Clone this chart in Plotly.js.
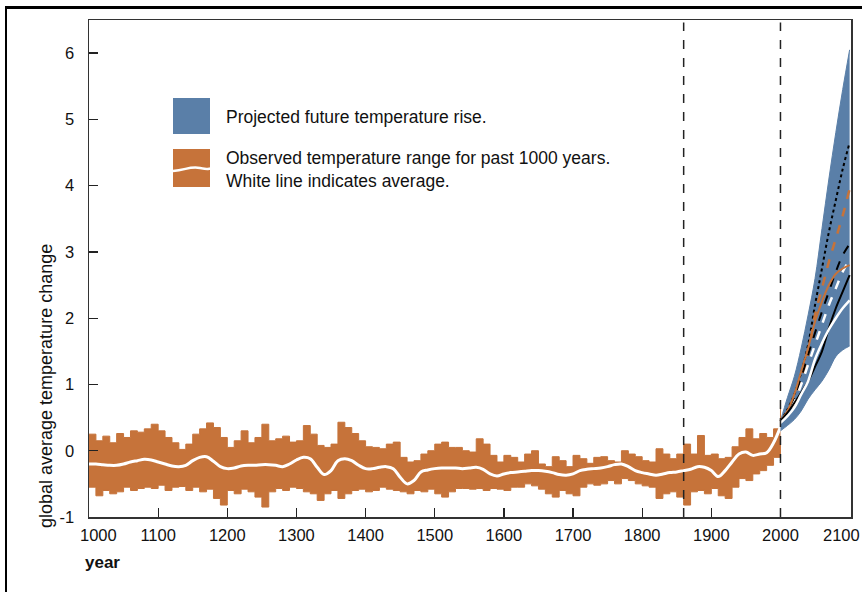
<!DOCTYPE html>
<html>
<head>
<meta charset="utf-8">
<script src="https://cdn.plot.ly/plotly-3.0.1.min.js"></script>
<style>
  html, body { margin: 0; padding: 0; background: #fff; }
  #wrap { position: relative; width: 862px; height: 592px; overflow: hidden; }
  #chart { width: 862px; height: 592px; }
  #frame { position: absolute; left: 5px; top: 6px; width: 900px; height: 700px;
           border-top: 3px solid #000; border-left: 2.5px solid #000; pointer-events: none; }
</style>
</head>
<body>
<div id="wrap"><div id="chart"></div><div id="frame"></div></div>
<script>
// ---- Observed record (10-year steps, 1000-2000) ----
const obsYears = [];
for (let y = 1000; y <= 2000; y += 10) obsYears.push(y);

const obsUpper = [0.25,0.15,0.22,0.12,0.26,0.2,0.3,0.28,0.33,0.4,
  0.3,0.2,0.12,0.02,0.1,0.25,0.33,0.42,0.35,0.2,
  0.05,0.15,0.3,0.12,0.2,0.4,0.15,0.18,0.22,0.13,
  0.15,0.38,0.25,0.08,0.05,0.1,0.43,0.35,0.26,0.15,
  0.06,0.05,0.03,0.1,0.13,-0.1,-0.17,-0.15,-0.05,0.0,
  0.1,0.13,0.05,0.05,0.0,-0.02,0.18,0.1,-0.07,-0.17,
  -0.07,-0.1,-0.17,-0.05,0.0,-0.2,-0.24,-0.09,-0.15,-0.24,
  -0.07,-0.12,-0.19,-0.1,-0.09,-0.15,-0.17,0.0,-0.05,-0.09,
  -0.15,-0.17,0.03,-0.05,-0.12,-0.05,0.1,-0.05,0.23,-0.07,
  -0.05,-0.12,-0.1,0.06,0.2,0.33,0.18,0.26,0.2,0.33,
  0.75];

const obsLower = [-0.55,-0.68,-0.6,-0.65,-0.62,-0.55,-0.6,-0.57,-0.55,-0.57,
  -0.52,-0.6,-0.55,-0.54,-0.6,-0.55,-0.62,-0.58,-0.72,-0.82,
  -0.6,-0.65,-0.58,-0.62,-0.7,-0.85,-0.62,-0.57,-0.6,-0.55,
  -0.57,-0.62,-0.65,-0.75,-0.65,-0.6,-0.72,-0.65,-0.6,-0.58,
  -0.62,-0.6,-0.55,-0.58,-0.6,-0.62,-0.65,-0.6,-0.62,-0.58,
  -0.65,-0.7,-0.62,-0.57,-0.57,-0.58,-0.57,-0.6,-0.57,-0.58,
  -0.6,-0.55,-0.55,-0.5,-0.53,-0.58,-0.65,-0.7,-0.6,-0.65,
  -0.68,-0.55,-0.5,-0.52,-0.5,-0.45,-0.5,-0.42,-0.45,-0.5,
  -0.53,-0.55,-0.72,-0.65,-0.62,-0.7,-0.82,-0.62,-0.6,-0.65,
  -0.57,-0.68,-0.72,-0.55,-0.42,-0.45,-0.35,-0.3,-0.22,-0.1,
  0.18];

const obsMean = [-0.2,-0.2,-0.21,-0.22,-0.22,-0.2,-0.17,-0.15,-0.13,-0.14,
  -0.17,-0.2,-0.23,-0.24,-0.22,-0.15,-0.1,-0.09,-0.16,-0.24,
  -0.27,-0.26,-0.23,-0.22,-0.22,-0.21,-0.21,-0.22,-0.24,-0.2,
  -0.14,-0.1,-0.12,-0.25,-0.36,-0.3,-0.15,-0.12,-0.15,-0.22,
  -0.27,-0.27,-0.25,-0.24,-0.27,-0.4,-0.5,-0.45,-0.32,-0.29,
  -0.27,-0.26,-0.26,-0.26,-0.27,-0.26,-0.25,-0.28,-0.35,-0.38,
  -0.35,-0.33,-0.32,-0.31,-0.3,-0.3,-0.31,-0.33,-0.36,-0.37,
  -0.35,-0.3,-0.28,-0.27,-0.26,-0.24,-0.21,-0.2,-0.24,-0.3,
  -0.33,-0.35,-0.37,-0.35,-0.33,-0.32,-0.3,-0.28,-0.24,-0.25,
  -0.3,-0.39,-0.3,-0.17,-0.05,-0.02,-0.07,-0.05,-0.03,0.12,
  0.36];

// ---- Projections (2000-2100) ----
const projYears = [2000,2010,2020,2030,2040,2050,2060,2070,2080,2090,2100];
const projUpper = [0.45,0.8,1.12,1.55,2.05,2.6,3.35,4.1,4.8,5.45,6.05];
const projLower = [0.3,0.38,0.47,0.6,0.78,0.92,1.05,1.22,1.42,1.52,1.58];
const scenBlackDot   = [0.45,0.62,0.85,1.18,1.6,2.2,2.75,3.3,3.78,4.25,4.65];
const scenOrangeDash = [0.45,0.55,0.7,1.08,1.45,2.05,2.45,2.85,3.2,3.55,3.95];
const scenBlackDash  = [0.45,0.57,0.8,1.1,1.45,1.78,2.1,2.4,2.7,2.95,3.12];
const scenWhiteDash  = [0.45,0.55,0.73,1.0,1.3,1.6,1.9,2.2,2.45,2.7,2.88];
const scenOrange     = [0.45,0.6,0.85,1.2,1.55,1.95,2.25,2.5,2.67,2.75,2.8];
const scenBlack      = [0.45,0.57,0.72,0.88,1.05,1.27,1.5,1.85,2.15,2.4,2.65];
const scenWhite      = [0.42,0.52,0.65,0.85,1.05,1.38,1.62,1.83,2.0,2.15,2.27];

// ---- Axis ticks / reference lines / texts ----
const xTickVals = [1100,1200,1300,1400,1500,1600,1700,1800,1900,2000];
const xTickText = ['1100','1200','1300','1400','1500','1600','1700','1800','1900','2000'];
const xEdgeLabels = [{v:1000, t:'1000'}, {v:2100, t:'2100'}];
const yTickVals = [-1,0,1,2,3,4,5,6];
const yTickText = ['-1','0','1','2','3','4','5','6'];
const refYears = [1860, 2000];
const legendTexts = ['Projected future temperature rise.',
                     'Observed temperature range for past 1000 years.',
                     'White line indicates average.'];
const yTitle = 'global average temperature change';
const xTitle = 'year';

const ORANGE = '#C6733A';
const BLUE = '#5A7FA8';
const NARROW = '"Liberation Sans Narrow", "Liberation Sans", Arial, sans-serif';

const traces = [
  {x: obsYears, y: obsLower, mode: 'lines', line: {color: ORANGE, width: 1, shape: 'hv'}, hoverinfo: 'skip', showlegend: false},
  {x: obsYears, y: obsUpper, mode: 'lines', fill: 'tonexty', fillcolor: ORANGE, line: {color: ORANGE, width: 1, shape: 'hv'}, hoverinfo: 'skip', showlegend: false},
  {x: obsYears, y: obsMean, mode: 'lines', line: {color: '#fff', width: 3, shape: 'spline', smoothing: 1}, showlegend: false},
  {x: projYears, y: projLower, mode: 'lines', line: {color: BLUE, width: 1, shape: 'spline'}, hoverinfo: 'skip', showlegend: false},
  {x: projYears, y: projUpper, mode: 'lines', fill: 'tonexty', fillcolor: BLUE, line: {color: BLUE, width: 1, shape: 'spline'}, hoverinfo: 'skip', showlegend: false},
  {x: projYears, y: scenBlackDot, mode: 'lines', line: {color: '#000', width: 2, dash: 'dot', shape: 'spline'}, showlegend: false},
  {x: projYears, y: scenOrangeDash, mode: 'lines', line: {color: ORANGE, width: 2.5, dash: 'dash', shape: 'spline'}, showlegend: false},
  {x: projYears, y: scenBlackDash, mode: 'lines', line: {color: '#000', width: 2, dash: 'dash', shape: 'spline'}, showlegend: false},
  {x: projYears, y: scenWhiteDash, mode: 'lines', line: {color: '#fff', width: 2.5, dash: 'dash', shape: 'spline'}, showlegend: false},
  {x: projYears, y: scenOrange, mode: 'lines', line: {color: ORANGE, width: 2, shape: 'spline'}, showlegend: false},
  {x: projYears, y: scenBlack, mode: 'lines', line: {color: '#000', width: 2, shape: 'spline'}, showlegend: false},
  {x: projYears, y: scenWhite, mode: 'lines', line: {color: '#fff', width: 2.5, shape: 'spline'}, showlegend: false}
];

const shapes = refYears.map(v => ({
  type: 'line', xref: 'x', yref: 'paper', x0: v, x1: v, y0: 0, y1: 0.995,
  line: {color: '#222', width: 1.5, dash: 'dash'}, layer: 'above'
}));
// legend swatches (paper coords)
const px = p => (p - 89) / 762;
const py = p => (517 - p) / 497;
shapes.push({type: 'rect', xref: 'paper', yref: 'paper', x0: px(173), x1: px(210), y0: py(134), y1: py(98), fillcolor: BLUE, line: {width: 0}});
shapes.push({type: 'rect', xref: 'paper', yref: 'paper', x0: px(173), x1: px(210), y0: py(187), y1: py(149), fillcolor: ORANGE, line: {width: 0}});
shapes.push({type: 'path', xref: 'paper', yref: 'paper',
  path: `M ${px(173)},${py(171)} C ${px(186)},${py(170)} ${px(190)},${py(166)} ${px(200)},${py(168)} S ${px(207)},${py(169)} ${px(210)},${py(168.5)}`,
  line: {color: '#fff', width: 2.5}});

const LEGFONT = {family: NARROW, size: 17.5, color: '#111'};
const annotations = [
  {xref: 'paper', yref: 'paper', x: px(224), y: py(117), xanchor: 'left', yanchor: 'middle', text: legendTexts[0], showarrow: false, font: LEGFONT},
  {xref: 'paper', yref: 'paper', x: px(224), y: py(158), xanchor: 'left', yanchor: 'middle', text: legendTexts[1], showarrow: false, font: LEGFONT},
  {xref: 'paper', yref: 'paper', x: px(224), y: py(181), xanchor: 'left', yanchor: 'middle', text: legendTexts[2], showarrow: false, font: LEGFONT},
  {xref: 'paper', yref: 'paper', x: px(46), y: py(386), xanchor: 'center', yanchor: 'middle', textangle: -90, text: yTitle, showarrow: false, font: {family: NARROW, size: 18, color: '#111'}},
  {xref: 'paper', yref: 'paper', x: px(83), y: py(562), xanchor: 'left', yanchor: 'middle', text: '<b>' + xTitle + '</b>', showarrow: false, font: {family: NARROW, size: 17, color: '#111'}}
];
xEdgeLabels.forEach((e, i) => annotations.push({
  xref: 'x', yref: 'paper', x: e.v, y: 0, xanchor: 'center', yanchor: 'top',
  xshift: i === 0 ? 9 : -8, yshift: -7, text: e.t, showarrow: false,
  font: {family: NARROW, size: 16.5, color: '#111'}
}));

const layout = {
  width: 862, height: 592,
  margin: {l: 89, r: 11, t: 20, b: 75},
  paper_bgcolor: '#fff', plot_bgcolor: '#fff',
  showlegend: false,
  xaxis: {
    range: [1000, 2102], tickmode: 'array', tickvals: xTickVals, ticktext: xTickText,
    ticks: 'inside', ticklen: 9, tickwidth: 1.3, tickcolor: '#222',
    showline: true, linecolor: '#333', linewidth: 1.5, mirror: true,
    showgrid: false, zeroline: false, ticklabelstandoff: 3,
    tickfont: {family: NARROW, size: 16.5, color: '#111'}
  },
  yaxis: {
    range: [-1, 6.5], tickmode: 'array', tickvals: yTickVals, ticktext: yTickText,
    ticks: 'inside', ticklen: 9, tickwidth: 1.3, tickcolor: '#222',
    showline: true, linecolor: '#333', linewidth: 1.5, mirror: true,
    showgrid: false, zeroline: false, ticklabelstandoff: 10,
    tickfont: {family: NARROW, size: 16.5, color: '#111'}
  },
  shapes: shapes,
  annotations: annotations
};

Plotly.newPlot('chart', traces, layout, {staticPlot: true, displayModeBar: false});
</script>
</body>
</html>
